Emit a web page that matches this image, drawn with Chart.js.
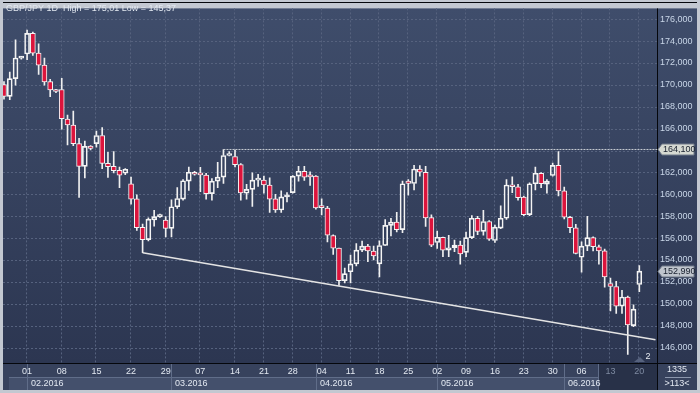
<!DOCTYPE html>
<html>
<head>
<meta charset="utf-8">
<script src="https://cdn.jsdelivr.net/npm/chart.js@4.4.0/dist/chart.umd.min.js"></script>
<style>
  html, body { margin: 0; padding: 0; background: #c3c8d1; }
  #wrap { width: 700px; height: 393px; }
</style>
</head>
<body>
<div id="wrap"><canvas id="gbpjpy" width="700" height="393"></canvas></div>
<script>
// GBP/JPY daily candles 2016 (broker had Sunday stubs until the DST switch in March)
const dates = [
  '01-27','01-28','01-29','01-31',
  '02-01','02-02','02-03','02-04','02-05','02-07',
  '02-08','02-09','02-10','02-11','02-12','02-14',
  '02-15','02-16','02-17','02-18','02-19','02-21',
  '02-22','02-23','02-24','02-25','02-26','02-28',
  '02-29','03-01','03-02','03-03','03-04','03-06',
  '03-07','03-08','03-09','03-10','03-11','03-13',
  '03-14','03-15','03-16','03-17','03-18',
  '03-21','03-22','03-23','03-24','03-25',
  '03-28','03-29','03-30','03-31','04-01',
  '04-04','04-05','04-06','04-07','04-08',
  '04-11','04-12','04-13','04-14','04-15',
  '04-18','04-19','04-20','04-21','04-22',
  '04-25','04-26','04-27','04-28','04-29',
  '05-02','05-03','05-04','05-05','05-06',
  '05-09','05-10','05-11','05-12','05-13',
  '05-16','05-17','05-18','05-19','05-20',
  '05-23','05-24','05-25','05-26','05-27',
  '05-30','05-31','06-01','06-02','06-03',
  '06-06','06-07','06-08','06-09','06-10',
  '06-13','06-14','06-15','06-16','06-17',
  '06-20'
];

const open = [
  170.03,168.95,170.57,172.45,172.82,174.71,172.91,171.80,170.30,169.55,
  169.58,166.88,166.34,164.63,162.56,164.40,164.63,165.38,162.83,162.56,
  162.20,161.93,160.97,159.59,156.98,155.87,157.67,157.94,157.64,156.89,
  158.87,159.56,161.21,162.02,161.96,161.75,160.07,161.21,161.57,163.55,
  163.46,162.73,160.10,160.46,161.30,161.30,160.85,159.59,158.57,159.77,
  160.16,161.66,162.11,161.63,161.66,158.80,158.75,156.23,155.09,152.12,
  152.93,153.65,154.91,155.27,154.82,153.65,155.33,157.16,157.46,156.77,
  161.21,160.99,162.32,162.02,157.88,155.60,156.08,154.91,155.12,155.36,
  154.70,156.05,157.82,156.62,157.52,155.78,156.92,157.82,160.85,160.69,
  159.76,158.14,160.97,161.93,160.94,161.72,162.65,160.31,157.91,156.95,
  154.25,155.27,156.05,155.21,154.85,151.85,151.58,149.78,150.62,148.01,
  151.76
];
const high = [
  170.30,171.17,174.11,172.60,175.01,174.83,173.75,172.46,170.51,169.60,
  170.60,167.24,167.60,165.11,164.87,164.45,165.77,166.10,163.85,163.91,
  162.50,162.35,161.57,159.95,157.28,157.85,158.54,158.20,157.97,159.50,
  160.61,161.36,162.50,162.10,162.47,161.93,161.45,162.92,164.10,163.90,
  164.05,162.80,160.91,161.96,161.83,161.66,161.51,160.00,160.31,160.16,
  161.72,162.56,162.56,162.05,161.72,159.60,158.90,156.30,155.10,153.26,
  154.46,155.51,155.72,155.44,155.27,155.75,157.70,157.82,158.36,161.21,
  161.36,162.65,162.62,162.56,158.12,156.65,156.10,156.26,155.81,155.72,
  156.56,158.06,158.00,158.54,157.60,157.20,158.96,161.36,161.60,160.91,
  159.85,161.06,162.50,162.00,161.36,162.86,163.91,160.67,158.00,157.25,
  155.66,158.00,156.11,155.36,155.00,152.36,152.06,151.22,150.71,149.90,
  153.50
];
const low = [
  168.70,168.65,169.97,172.35,172.31,172.70,170.96,169.97,168.92,169.30,
  165.95,164.51,164.45,159.71,161.51,164.05,164.30,162.35,161.54,161.96,
  160.61,161.80,159.11,156.71,154.67,155.75,157.10,157.90,156.11,156.11,
  158.72,159.47,160.37,161.75,160.25,159.56,159.47,160.61,161.00,163.50,
  162.50,159.47,159.55,158.90,160.72,160.10,158.36,158.36,158.36,159.31,
  160.10,161.21,161.27,160.82,158.65,158.12,155.66,154.52,151.67,151.91,
  151.91,153.47,154.76,153.86,154.00,152.45,155.30,156.20,156.56,156.50,
  159.92,160.40,161.66,157.07,155.21,155.06,154.31,154.31,154.76,153.62,
  154.31,155.96,156.32,156.26,155.80,155.60,156.86,157.70,160.15,159.46,
  158.06,158.06,160.40,160.61,160.10,161.66,159.86,157.76,156.50,154.55,
  152.90,154.85,154.82,153.62,151.52,149.36,149.12,149.12,145.37,147.92,
  151.10
];
const close = [
  168.95,170.57,172.46,172.55,174.71,172.91,171.80,170.27,169.55,169.40,
  166.91,166.34,164.63,162.56,164.39,164.20,165.38,162.83,162.53,162.17,
  161.75,162.29,159.56,156.95,155.87,157.73,157.97,158.15,156.89,158.87,
  159.62,161.24,162.02,161.84,161.78,160.07,161.21,161.57,163.55,163.73,
  162.71,160.13,160.46,161.30,161.48,160.85,159.56,158.57,159.77,159.80,
  161.66,162.11,161.57,161.60,158.75,158.78,156.26,155.09,152.12,152.75,
  153.65,154.91,155.27,154.82,154.37,155.33,157.16,157.46,156.77,160.97,
  161.00,162.32,162.02,157.85,155.36,156.08,154.91,155.12,155.36,154.55,
  156.05,157.82,156.62,157.52,155.90,157.01,157.82,160.85,160.69,159.70,
  158.14,160.97,161.93,160.97,161.21,162.65,160.31,157.91,156.95,154.61,
  155.27,156.05,155.21,154.82,152.45,151.58,149.78,150.62,148.07,149.51,
  152.99
];

const yTicks = [146,148,150,152,154,156,158,160,162,164,166,168,170,172,174,176];
// support line drawn from the 24 Feb low to the right edge
const supportLine = [{x: 24, y: 154.67}, {x: 112.8, y: 146.72}];
// horizontal level from the 11 Mar high
const levelFrom = 38;
const levelPrice = 164.10;
const titleText = 'GBP/JPY 1D  High = 175,01 Low = 145,37';
const barCount = '1335';
const visibleCount = '>113<';

const X_MIN = -0.17, X_MAX = 113.06;
const lastPrice = close[close.length - 1];

const FAMILY = '"Liberation Sans", Arial, sans-serif';
const FONT = '9px ' + FAMILY;
const fmt = v => v.toFixed(3).replace('.', ',');
const dayOf = s => new Date(Date.UTC(2016, +s.slice(0, 2) - 1, +s.slice(3))).getUTCDay();
const mondays = dates.map((d, i) => dayOf(d) === 1 ? i : -1).filter(i => i >= 0);
const monthStarts = dates.map((d, i) => (i === 0 || d.slice(0, 2) !== dates[i - 1].slice(0, 2)) ? i : -1).filter(i => i >= 0);

const bull = i => close[i] >= open[i];

function priceTag(ctx, yPix, text, fill) {
  const x0 = 657, h = 11;
  ctx.beginPath();
  ctx.moveTo(x0 + 1, yPix);
  ctx.lineTo(x0 + 5, yPix - h / 2);
  ctx.lineTo(x0 + 37, yPix - h / 2);
  ctx.lineTo(x0 + 37, yPix + h / 2);
  ctx.lineTo(x0 + 5, yPix + h / 2);
  ctx.closePath();
  ctx.fillStyle = fill;
  ctx.fill();
  ctx.strokeStyle = '#6f7888';
  ctx.lineWidth = 1;
  ctx.stroke();
  ctx.fillStyle = '#18202e';
  ctx.textAlign = 'left';
  ctx.textBaseline = 'middle';
  ctx.fillText(text, x0 + 6, yPix + 0.5);
}

const terminalLook = {
  id: 'terminalLook',
  beforeDraw(chart) {
    const {ctx, chartArea: a, scales: {x, y}} = chart;
    const R = 697, B = 390;
    ctx.save();
    // frame
    ctx.fillStyle = '#c3c8d1';
    ctx.fillRect(0, 0, chart.width, chart.height);
    // plot + price panel
    const g = ctx.createLinearGradient(0, a.top, 0, a.bottom);
    g.addColorStop(0, '#3f4d6b');
    g.addColorStop(1, '#2c3651');
    ctx.fillStyle = g;
    ctx.fillRect(a.left, a.top, R - a.left, a.bottom - a.top);
    // time axis rows
    ctx.fillStyle = '#37425d';
    ctx.fillRect(a.left, a.bottom, R - a.left, B - a.bottom);
    const selStart = Math.round(x.getPixelForValue(102.8));
    const edges = monthStarts.map(i => Math.round(x.getPixelForValue(i)) + 0.5);
    edges.push(selStart);
    ctx.fillStyle = '#44506c';
    ctx.strokeStyle = '#606d89';
    ctx.lineWidth = 1;
    for (let k = 0; k < edges.length - 1; k++) {
      const l = Math.max(edges[k], a.left + 6), r = edges[k + 1];
      ctx.fillRect(l, 377, r - l, B - 377);
      ctx.beginPath();
      ctx.moveTo(l, 377.5); ctx.lineTo(r, 377.5);
      ctx.stroke();
      if (k > 0) {
        ctx.beginPath();
        ctx.moveTo(l, a.bottom); ctx.lineTo(l, B);
        ctx.stroke();
      }
    }
    // selected range at the right end
    ctx.fillStyle = '#283148';
    ctx.fillRect(selStart, a.bottom, a.right - selStart, B - a.bottom);
    ctx.beginPath();
    ctx.moveTo(selStart + 0.5, a.bottom); ctx.lineTo(selStart + 0.5, B);
    ctx.stroke();
    // dashed grid
    ctx.strokeStyle = '#56627e';
    ctx.setLineDash([2, 2]);
    x.ticks.forEach(t => {
      const px = Math.round(x.getPixelForValue(t.value)) - 0.5;
      ctx.beginPath(); ctx.moveTo(px, a.top); ctx.lineTo(px, a.bottom); ctx.stroke();
    });
    y.ticks.forEach(t => {
      const py = Math.round(y.getPixelForValue(t.value)) + 0.5;
      ctx.beginPath(); ctx.moveTo(a.left, py); ctx.lineTo(a.right, py); ctx.stroke();
    });
    ctx.restore();
  },
  afterDraw(chart) {
    const {ctx, chartArea: a, scales: {x, y}} = chart;
    ctx.save();
    ctx.font = FONT;
    // black axis lines
    ctx.fillStyle = '#05070c';
    ctx.fillRect(a.left, 2, 697 - a.left, 1);
    ctx.fillRect(a.left, a.bottom, 697 - a.left, 1);
    ctx.fillRect(a.right, a.top, 1, 390 - a.top);
    // month captions
    ctx.fillStyle = '#e3e9f2';
    ctx.textAlign = 'left';
    ctx.textBaseline = 'middle';
    monthStarts.forEach(i => {
      if (i === 0) return;
      ctx.fillText(dates[i].slice(0, 2) + '.2016', Math.round(x.getPixelForValue(i)) + 4, 384);
    });
    // title
    ctx.fillStyle = '#e2e8f0';
    ctx.fillText(titleText, 6, 9);
    // bars counter panel
    ctx.textAlign = 'center';
    ctx.fillStyle = '#e3e9f2';
    ctx.fillText(barCount, 677, 370);
    ctx.fillText(visibleCount, 677, 384);
    ctx.fillStyle = '#8c97ad';
    ctx.fillRect(665, 377, 26, 1);
    // scroll marker
    ctx.fillStyle = '#56627e';
    ctx.beginPath();
    ctx.moveTo(634, 362); ctx.lineTo(640, 357); ctx.lineTo(645, 362); ctx.closePath();
    ctx.fill();
    ctx.fillStyle = '#e8ecf2';
    ctx.fillText('2', 648, 357);
    // price tags
    priceTag(ctx, Math.round(y.getPixelForValue(levelPrice)) + 0.5, fmt(levelPrice), '#d6d9d2');
    priceTag(ctx, Math.round(y.getPixelForValue(lastPrice)) + 0.5, fmt(lastPrice), '#bfc5cd');
    ctx.restore();
  }
};

const idx = dates.map((d, i) => i);

new Chart(document.getElementById('gbpjpy'), {
  type: 'bar',
  data: {
    datasets: [
      {
        label: 'lower wick',
        data: idx.map(i => ({x: i, y: [low[i], Math.min(open[i], close[i])]})),
        backgroundColor: '#f0f0f0',
        barThickness: 1,
        grouped: false,
        order: 4
      },
      {
        label: 'upper wick',
        data: idx.map(i => ({x: i, y: [Math.max(open[i], close[i]), high[i]]})),
        backgroundColor: '#f0f0f0',
        barThickness: 1,
        grouped: false,
        order: 3
      },
      {
        label: 'body',
        data: idx.map(i => ({x: i, y: [open[i], close[i]]})),
        backgroundColor: c => bull(c.dataIndex) ? 'rgba(0,0,0,0)' : '#dc143c',
        borderColor: '#f4f4f4',
        borderWidth: 1,
        borderSkipped: false,
        minBarLength: 2,
        barThickness: 5,
        grouped: false,
        order: 2
      },
      {
        type: 'line',
        label: 'support',
        data: supportLine,
        borderColor: '#e4e4e4',
        borderWidth: 1.5,
        pointRadius: 0,
        order: 1
      },
      {
        type: 'line',
        label: 'level',
        data: [{x: levelFrom, y: levelPrice}, {x: X_MAX, y: levelPrice}],
        borderColor: '#c9cdd3',
        borderWidth: 1,
        borderDash: [2, 1],
        pointRadius: 0,
        order: 1
      }
    ]
  },
  options: {
    responsive: false,
    animation: false,
    devicePixelRatio: 1,
    events: [],
    layout: { padding: { left: 3, top: 3, right: 0, bottom: 0 } },
    plugins: { legend: { display: false }, tooltip: { enabled: false } },
    scales: {
      x: {
        type: 'linear',
        min: X_MIN,
        max: X_MAX,
        offset: false,
        grid: { display: false, drawTicks: false },
        border: { display: false },
        afterBuildTicks: s => { s.ticks = mondays.map(v => ({value: v})); },
        afterFit: s => { s.height = 30; },
        ticks: {
          autoSkip: false,
          maxRotation: 0,
          padding: 3,
          font: { family: FAMILY, size: 9 },
          color: c => (c.tick && c.tick.value >= 105) ? '#7e8aa1' : '#e3e9f2',
          callback: v => dates[v] ? dates[v].slice(3) : ''
        }
      },
      y: {
        position: 'right',
        min: 144.59,
        max: 176.99,
        grid: { display: false, drawTicks: false },
        border: { display: false },
        afterBuildTicks: s => { s.ticks = yTicks.map(v => ({value: v})); },
        afterFit: s => { s.width = 43; },
        ticks: {
          padding: 3,
          font: { family: FAMILY, size: 9 },
          color: '#c9d6e8',
          callback: v => fmt(v)
        }
      }
    }
  },
  plugins: [terminalLook]
});
</script>
</body>
</html>
